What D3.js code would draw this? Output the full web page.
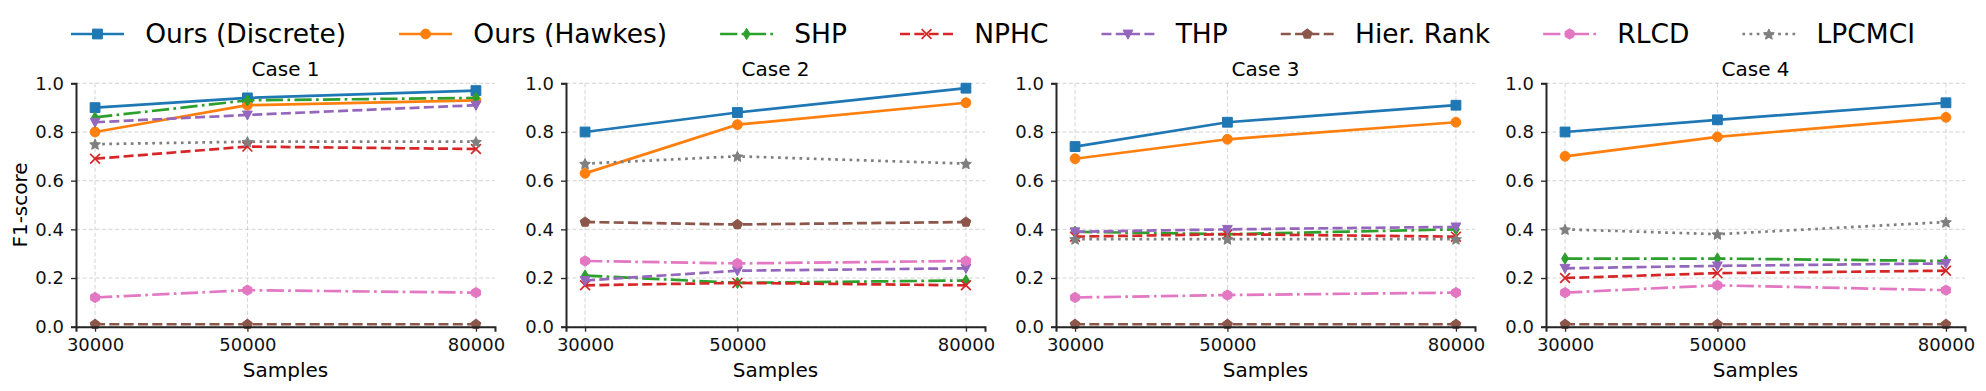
<!DOCTYPE html>
<html>
<head>
<meta charset="utf-8">
<script src="https://cdn.jsdelivr.net/npm/d3@7"></script>
<style>
  body { margin: 0; background: #fff; }
  svg { font-family: "DejaVu Sans", sans-serif; }
</style>
</head>
<body>
<svg></svg>
<script>
const width = 1986,
    height = 391;

// x categories and panel names
const samples = [30000, 50000, 80000];
const cases = ["Case 1", "Case 2", "Case 3", "Case 4"];
const yTicks = [0, 0.2, 0.4, 0.6, 0.8, 1.0];

// series (one value per case per sample)
const methods = ["Ours (Discrete)", "Ours (Hawkes)", "SHP", "NPHC", "THP", "Hier. Rank", "RLCD", "LPCMCI"];
const oursDiscrete = [[0.90, 0.94, 0.97], [0.80, 0.88, 0.98], [0.74, 0.84, 0.91], [0.80, 0.85, 0.92]];
const oursHawkes   = [[0.80, 0.91, 0.93], [0.63, 0.83, 0.92], [0.69, 0.77, 0.84], [0.70, 0.78, 0.86]];
const shp          = [[0.86, 0.93, 0.94], [0.21, 0.18, 0.19], [0.39, 0.38, 0.40], [0.28, 0.28, 0.27]];
const nphc         = [[0.69, 0.74, 0.73], [0.17, 0.18, 0.17], [0.37, 0.38, 0.37], [0.20, 0.22, 0.23]];
const thp          = [[0.84, 0.87, 0.91], [0.19, 0.23, 0.24], [0.39, 0.40, 0.41], [0.24, 0.25, 0.26]];
const hierRank     = [[0.01, 0.01, 0.01], [0.43, 0.42, 0.43], [0.01, 0.01, 0.01], [0.01, 0.01, 0.01]];
const rlcd         = [[0.12, 0.15, 0.14], [0.27, 0.26, 0.27], [0.12, 0.13, 0.14], [0.14, 0.17, 0.15]];
const lpcmci       = [[0.75, 0.76, 0.76], [0.67, 0.70, 0.67], [0.36, 0.36, 0.36], [0.40, 0.38, 0.43]];
const seriesValues = [oursDiscrete, oursHawkes, shp, nphc, thp, hierRank, rlcd, lpcmci];

const colors = ["#1f77b4", "#ff7f0e", "#2ca02c", "#d62728", "#9467bd", "#8c564b", "#e377c2", "#7f7f7f"];
const markers = ["square", "circle", "thindiamond", "x", "tridown", "pentagon", "hexagon", "star"];
const lw = 2.7;
const dashes = [null, null,
    [6.4 * lw, 1.6 * lw, 1 * lw, 1.6 * lw],
    [3.7 * lw, 1.6 * lw],
    [3.7 * lw, 1.6 * lw],
    [3.7 * lw, 1.6 * lw],
    [6.4 * lw, 1.6 * lw, 1 * lw, 1.6 * lw],
    [1 * lw, 1.65 * lw]];

const svg = d3.select("svg")
    .attr("width", width)
    .attr("height", height);

const panelLeft = 76, panelStep = 490, panelW = 419,
    panelTop = 83.3, panelBottom = 326.7;

const x = d3.scaleLinear().domain([27500, 82500]).range([0, panelW]);
const y = d3.scaleLinear().domain([0, 1]).range([panelBottom - panelTop, 0]);

function polygon(n, r, rot) {
    const pts = d3.range(n).map(i => {
        const a = rot + i * 2 * Math.PI / n;
        return [r * Math.sin(a), -r * Math.cos(a)];
    });
    return "M" + pts.map(p => p.join(",")).join("L") + "Z";
}

function markerPath(type) {
    const r = 4.9;
    switch (type) {
        case "square": return `M${-r},${-r}H${r}V${r}H${-r}Z`;
        case "circle": return d3.symbol(d3.symbolCircle, Math.PI * r * r)();
        case "thindiamond": return `M0,${-r * 1.15}L${r * 0.7},0L0,${r * 1.15}L${-r * 0.7},0Z`;
        case "x": return `M${-r},${-r}L${r},${r}M${-r},${r}L${r},${-r}`;
        case "tridown": return `M${-r},${-r * 0.8}L${r},${-r * 0.8}L0,${r * 1.05}Z`;
        case "pentagon": return polygon(5, r * 1.05, 0);
        case "hexagon": return polygon(6, r * 1.05, 0);
        case "star": {
            const pts = d3.range(10).map(i => {
                const rr = i % 2 ? r * 0.55 : r * 1.15;
                const a = i * Math.PI / 5;
                return [rr * Math.sin(a), -rr * Math.cos(a) + 0.6];
            });
            return "M" + pts.map(p => p.join(",")).join("L") + "Z";
        }
    }
}

function drawMarker(g, type, color, cx, cy) {
    const m = g.append("path")
        .attr("d", markerPath(type))
        .attr("transform", `translate(${cx},${cy})`);
    if (type === "x") {
        m.attr("fill", "none").attr("stroke", color).attr("stroke-width", 1.7);
    } else {
        m.attr("fill", color).attr("stroke", color).attr("stroke-width", 1);
    }
}

const line = d3.line()
    .x((d, i) => x(samples[i]))
    .y(d => y(d));

cases.forEach((title, ci) => {
    const g = svg.append("g")
        .attr("transform", `translate(${panelLeft + ci * panelStep},${panelTop})`);

    // grid
    g.append("g").selectAll("line")
        .data(yTicks)
        .join("line")
        .attr("x1", 0).attr("x2", panelW)
        .attr("y1", d => y(d)).attr("y2", d => y(d))
        .attr("stroke", "#b0b0b0").attr("stroke-opacity", 0.55)
        .attr("stroke-width", 1).attr("stroke-dasharray", "4,2.5");
    g.append("g").selectAll("line")
        .data(samples)
        .join("line")
        .attr("x1", d => x(d)).attr("x2", d => x(d))
        .attr("y1", 0).attr("y2", y(0))
        .attr("stroke", "#b0b0b0").attr("stroke-opacity", 0.55)
        .attr("stroke-width", 1).attr("stroke-dasharray", "4,2.5");

    // series
    methods.forEach((name, mi) => {
        const vals = seriesValues[mi][ci];
        g.append("path")
            .datum(vals)
            .attr("d", line)
            .attr("fill", "none")
            .attr("stroke", colors[mi])
            .attr("stroke-width", lw)
            .attr("stroke-dasharray", dashes[mi] ? dashes[mi].join(",") : null);
        vals.forEach((v, i) => drawMarker(g, markers[mi], colors[mi], x(samples[i]), y(v)));
    });

    // axes
    const xAxis = g.append("g")
        .attr("transform", `translate(0,${y(0)})`)
        .call(d3.axisBottom(x).tickValues(samples).tickFormat(d3.format("d")).tickSizeOuter(0).tickSize(5).tickPadding(7));
    const yAxis = g.append("g")
        .call(d3.axisLeft(y).tickValues(yTicks).tickFormat(d3.format(".1f")).tickSizeOuter(0).tickSize(5).tickPadding(7));
    [xAxis, yAxis].forEach(a => {
        a.select(".domain").attr("stroke", "#262626").attr("stroke-width", 2);
        a.selectAll(".tick line").attr("stroke", "#262626").attr("stroke-width", 1.3);
        a.selectAll(".tick text").attr("fill", "#111").style("font-size", "18px")
            .style("font-family", "DejaVu Sans");
    });

    g.append("text")
        .attr("x", panelW / 2).attr("y", -7)
        .attr("text-anchor", "middle")
        .style("font-size", "20px")
        .text(title);

    g.append("text")
        .attr("x", panelW / 2).attr("y", 377 - panelTop)
        .attr("text-anchor", "middle")
        .style("font-size", "20px")
        .text("Samples");

    if (ci === 0) {
        g.append("text")
            .attr("transform", `translate(${20 - panelLeft},${y(0.5)}) rotate(-90)`)
            .attr("text-anchor", "middle")
            .attr("dy", "0.35em")
            .style("font-size", "20px")
            .text("F1-score");
    }
});

// legend
const fs = 26.5, handleLen = 2 * fs, textPad = 0.8 * fs, colSpace = 2 * fs, legY = 34;
const legend = svg.append("g");
const items = methods.map((name, mi) => {
    const it = legend.append("g");
    const t = it.append("text")
        .attr("x", handleLen + textPad)
        .attr("y", legY)
        .attr("dy", "0.35em")
        .style("font-size", fs + "px")
        .text(name);
    it.append("line")
        .attr("x1", 0).attr("x2", handleLen)
        .attr("y1", legY).attr("y2", legY)
        .attr("stroke", colors[mi]).attr("stroke-width", lw)
        .attr("stroke-dasharray", dashes[mi] ? dashes[mi].join(",") : null);
    drawMarker(it, markers[mi], colors[mi], handleLen / 2, legY);
    return { g: it, w: handleLen + textPad + t.node().getComputedTextLength() };
});
const total = d3.sum(items, d => d.w) + colSpace * (items.length - 1);
let cx = (width - total) / 2;
items.forEach(d => {
    d.g.attr("transform", `translate(${cx},0)`);
    cx += d.w + colSpace;
});
</script>
</body>
</html>
